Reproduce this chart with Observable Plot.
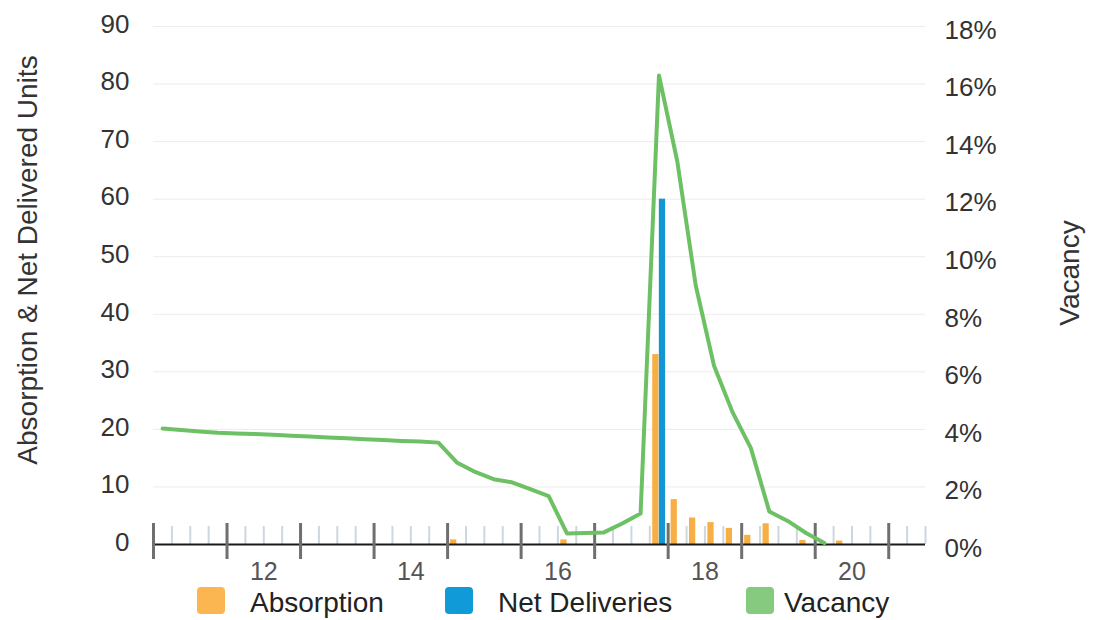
<!DOCTYPE html>
<html>
<head>
<meta charset="utf-8">
<script src="https://cdn.jsdelivr.net/npm/d3@7"></script>
<script src="https://cdn.jsdelivr.net/npm/@observablehq/plot@0.6"></script>
<style>
  html, body { margin: 0; padding: 0; background: #fff; }
  #chart { position: relative; width: 1099px; height: 620px; overflow: hidden;
           font-family: "Liberation Sans", Arial, Helvetica, sans-serif; }
  #chart svg { position: absolute; left: 0; top: 0; }
  .ytitle { position: absolute; white-space: nowrap; color: #333; font-size: 28px; line-height: 1;
            transform: translate(-50%, -50%) rotate(-90deg); }
  .sw { position: absolute; top: 587px; width: 28px; height: 27px; border-radius: 4px; }
  .lt { position: absolute; top: 585px; height: 35px; line-height: 35px; font-size: 28px; color: #222; white-space: nowrap; }
</style>
</head>
<body>
<div id="chart"></div>
<script>
// Quarterly periods
const periods = [
  "2011 Q1","2011 Q2","2011 Q3","2011 Q4","2012 Q1","2012 Q2","2012 Q3","2012 Q4",
  "2013 Q1","2013 Q2","2013 Q3","2013 Q4","2014 Q1","2014 Q2","2014 Q3","2014 Q4",
  "2015 Q1","2015 Q2","2015 Q3","2015 Q4","2016 Q1","2016 Q2","2016 Q3","2016 Q4",
  "2017 Q1","2017 Q2","2017 Q3","2017 Q4","2018 Q1","2018 Q2","2018 Q3","2018 Q4",
  "2019 Q1","2019 Q2","2019 Q3","2019 Q4","2020 Q1","2020 Q2","2020 Q3","2020 Q4",
  "2021 Q1","2021 Q2"
];

// Vacancy rate (%)
const vacancy = [
  4.03, 3.98, 3.93, 3.88, 3.86, 3.84, 3.81, 3.78, 3.75, 3.72, 3.69, 3.66, 3.63, 3.60, 3.58, 3.54,
  2.85, 2.52, 2.27, 2.16, 1.92, 1.68, 0.38, 0.40, 0.42, 0.73, 1.08, 16.3, 13.3, 9.0, 6.2, 4.6,
  3.35, 1.15, 0.82, 0.40, 0.05, null, null, null, null, null
];

// Absorption (units)
const absorption = [
  0, 0, 0, 0, 0, 0, 0, 0, 0, 0, 0, 0, 0, 0, 0, 0,
  0.8, 0, 0, 0, 0, 0, 0.8, 0, 0, 0, 0, 33, 7.8, 4.6, 3.8, 2.8,
  1.6, 3.6, 0, 0.7, 0, 0.6, 0, 0, 0, 0
];

// Net deliveries (units)
const netDeliveries = [
  0, 0, 0, 0, 0, 0, 0, 0, 0, 0, 0, 0, 0, 0, 0, 0,
  0, 0, 0, 0, 0, 0, 0, 0, 0, 0, 0, 60, 0, 0, 0, 0,
  0, 0, 0, 0, 0, 0, 0, 0, 0, 0
];

// Axis ticks
const yTicks = [0, 10, 20, 30, 40, 50, 60, 70, 80, 90];
const yTickLabels = ["0", "10", "20", "30", "40", "50", "60", "70", "80", "90"];
const pctTickLabels = ["0%", "2%", "4%", "6%", "8%", "10%", "12%", "14%", "16%", "18%"];
const xTickYears = [2012, 2014, 2016, 2018, 2020];
const xTickLabels = ["12", "14", "16", "18", "20"];
const yearStarts = [2011, 2012, 2013, 2014, 2015, 2016, 2017, 2018, 2019, 2020, 2021];

const colors = {absorption: "#F7AE45", net: "#1396D3", vacancy: "#6DC064"};
const legendColors = {absorption: "#FBB652", net: "#109BD8", vacancy: "#85CA7E"};

// vacancy % is drawn against the right axis, which is the left axis divided by 5
const pctFactor = 5;

const rows = periods.map((p, i) => {
  const [yr, q] = p.split(" Q").map(Number);
  return {t: yr + (q - 1) / 4, absorption: absorption[i], net: netDeliveries[i], vacancy: vacancy[i]};
});
const qEnd = rows[rows.length - 1].t + 0.25;
const quarterBounds = rows.map(d => d.t).concat([qEnd]).filter(t => !yearStarts.includes(t));
const qw = 0.25;

const chart = Plot.plot({
  width: 1099,
  height: 585,
  marginLeft: 153,
  marginRight: 174,
  marginTop: 26,
  marginBottom: 41,
  style: {fontFamily: "'Liberation Sans', Arial, Helvetica, sans-serif", background: "transparent", overflow: "visible"},
  x: {domain: [2011, qEnd]},
  y: {domain: [0, 90]},
  marks: [
    Plot.ruleY(yTicks.filter(d => d > 0), {stroke: "#ececec", strokeWidth: 1}),
    Plot.ruleX(quarterBounds, {y1: 0, y2: 0, insetTop: -18, stroke: "#cfd7de", strokeWidth: 2}),
    Plot.rect(rows.filter(d => d.absorption > 0), {
      x1: d => d.t + qw * 0.16, x2: d => d.t + qw * 0.5,
      y1: 0, y2: d => d.absorption, fill: colors.absorption
    }),
    Plot.rect(rows.filter(d => d.net > 0), {
      x1: d => d.t + qw * 0.52, x2: d => d.t + qw * 0.86,
      y1: 0, y2: d => d.net, fill: colors.net
    }),
    Plot.ruleY([0], {stroke: "#1a1a1a", strokeWidth: 2}),
    Plot.ruleX(yearStarts, {y1: 0, y2: 0, insetTop: -21, insetBottom: -15, stroke: "#6f6f6f", strokeWidth: 3}),
    Plot.line(rows.filter(d => d.vacancy != null), {
      x: d => d.t + qw / 2, y: d => d.vacancy * pctFactor,
      stroke: colors.vacancy, strokeWidth: 4, strokeLinejoin: "round"
    }),
    Plot.axisX(xTickYears.map(y => y + 0.5), {
      tickSize: 0, tickPadding: 18, fontSize: 25, fill: "#555", label: null,
      tickFormat: d => xTickLabels[xTickYears.indexOf(d - 0.5)]
    }),
    Plot.axisY(yTicks, {
      anchor: "left", tickSize: 0, tickPadding: 24, fontSize: 26, fill: "#333", label: null, dy: -2,
      tickFormat: d => yTickLabels[yTicks.indexOf(d)]
    }),
    Plot.axisY(yTicks, {
      anchor: "right", tickSize: 0, tickPadding: 19, fontSize: 26, fill: "#333", label: null, dy: 4,
      tickFormat: d => pctTickLabels[yTicks.indexOf(d)]
    })
  ]
});

const root = document.getElementById("chart");
root.appendChild(chart);

function addDiv(cls, text, style) {
  const el = document.createElement("div");
  el.className = cls;
  if (text) el.textContent = text;
  Object.assign(el.style, style);
  root.appendChild(el);
  return el;
}

// Axis titles
addDiv("ytitle", "Absorption & Net Delivered Units", {left: "28px", top: "260px"});
addDiv("ytitle", "Vacancy", {left: "1070px", top: "273px"});

// Legend
const legendItems = [
  {label: "Absorption", color: legendColors.absorption, sw: 197, tx: 250},
  {label: "Net Deliveries", color: legendColors.net, sw: 445, tx: 498},
  {label: "Vacancy", color: legendColors.vacancy, sw: 746, tx: 784}
];
for (const it of legendItems) {
  addDiv("sw", null, {left: it.sw + "px", background: it.color});
  addDiv("lt", it.label, {left: it.tx + "px"});
}
</script>
</body>
</html>
